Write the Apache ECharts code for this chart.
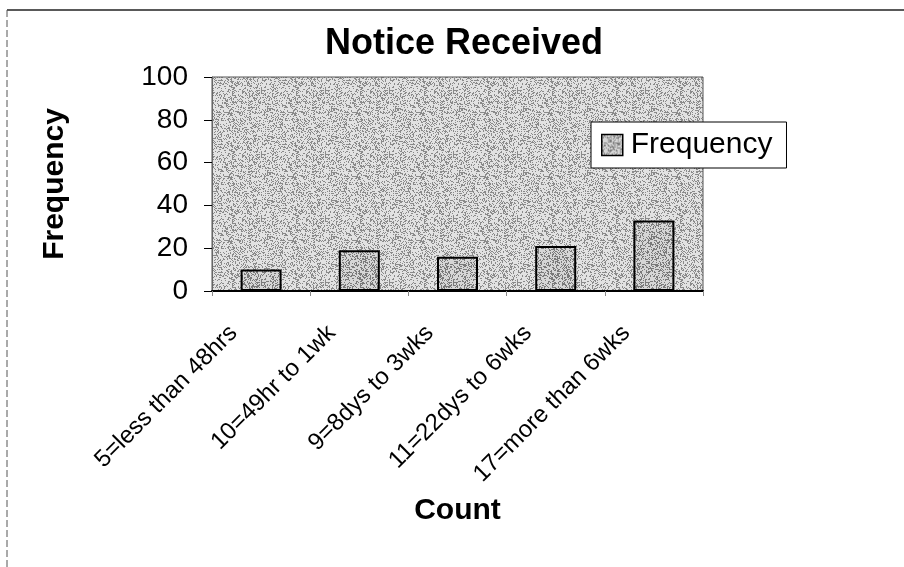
<!DOCTYPE html>
<html>
<head>
<meta charset="utf-8">
<script src="https://cdn.jsdelivr.net/npm/echarts@6/dist/echarts.min.js"></script>
<style>
  html, body { margin: 0; padding: 0; background: #fff; }
  #chart { width: 904px; height: 567px; }
</style>
</head>
<body>
<div id="chart"></div>
<script>
const categories = ['5=less than 48hrs', '10=49hr to 1wk', '9=8dys to 3wks', '11=22dys to 6wks', '17=more than 6wks'];
const frequency = [10, 19, 16, 21, 33];
const seriesName = 'Frequency';
const chartTitle = 'Notice Received';
const xAxisTitle = 'Count';
const yAxisTitle = 'Frequency';
const yMin = 0, yMax = 100, yStep = 20;

function makeStipple(base, dark, density) {
  const c = document.createElement('canvas');
  c.width = 64; c.height = 64;
  const g = c.getContext('2d');
  g.fillStyle = base;
  g.fillRect(0, 0, 64, 64);
  g.fillStyle = dark;
  for (let y = 0; y < 64; y++) {
    for (let x = 0; x < 64; x++) {
      let h = (Math.imul(x + 1, 374761393) ^ Math.imul(y + 7, 668265263)) >>> 0;
      h = Math.imul(h ^ (h >>> 13), 1274126177) >>> 0;
      if ((h % 100) < density) g.fillRect(x, y, 1, 1);
    }
  }
  return c;
}
const bgPattern = { image: makeStipple('#e2e2e2', '#8a8a8a', 30), repeat: 'repeat' };
const barPattern = { image: makeStipple('#d6d6d6', '#7a7a7a', 36), repeat: 'repeat' };

const FONT = '"Liberation Sans", Arial, sans-serif';
const chart = echarts.init(document.getElementById('chart'), null, { renderer: 'canvas' });
chart.setOption({
  animation: false,
  backgroundColor: '#fff',
  title: {
    text: chartTitle,
    left: 464, top: 26, textAlign: 'center', padding: 0,
    textStyle: { fontFamily: FONT, fontSize: 36, fontWeight: 'bold', color: '#000' }
  },
  legend: {
    data: [seriesName],
    left: 591, top: 122,
    orient: 'vertical',
    padding: [8, 14, 8, 10],
    backgroundColor: '#fff',
    borderColor: '#000', borderWidth: 1,
    itemWidth: 21, itemHeight: 21,
    icon: 'rect',
    itemStyle: { borderColor: '#000', borderWidth: 1.5 },
    textStyle: { fontFamily: FONT, fontSize: 30, color: '#000', padding: [0, 0, 6, 3] }
  },
  grid: {
    left: 212, right: 201, top: 77, bottom: 276,
    show: true,
    backgroundColor: bgPattern,
    borderColor: '#555', borderWidth: 1
  },
  xAxis: {
    type: 'category',
    data: categories,
    name: xAxisTitle,
    nameLocation: 'middle',
    nameGap: 205,
    nameTextStyle: { fontFamily: FONT, fontSize: 30, fontWeight: 'bold', color: '#000' },
    axisLine: { show: true, lineStyle: { color: '#000', width: 2 } },
    axisTick: { show: true, length: 5, lineStyle: { color: '#888', width: 1 } },
    axisLabel: {
      interval: 0, rotate: 45, margin: 66,
      formatter: function (v) { return '{lab|' + v + '}'; },
      rich: { lab: { fontFamily: FONT, fontSize: 24, color: '#000', padding: [0, 0, 78, 0] } },
      fontFamily: FONT, fontSize: 24, color: '#000'
    },
    splitLine: { show: false }
  },
  yAxis: {
    type: 'value',
    min: yMin, max: yMax, interval: yStep,
    name: yAxisTitle,
    nameLocation: 'middle',
    nameRotate: 90,
    nameGap: 142,
    nameTextStyle: { fontFamily: FONT, fontSize: 30, fontWeight: 'bold', color: '#000' },
    axisLine: { show: true, lineStyle: { color: '#666', width: 1 } },
    axisTick: { show: true, length: 8, lineStyle: { color: '#000', width: 1 } },
    axisLabel: { margin: 24, fontFamily: FONT, fontSize: 28, color: '#000' },
    splitLine: { show: false }
  },
  series: [{
    name: seriesName,
    type: 'bar',
    data: frequency,
    barWidth: 41,
    itemStyle: { color: barPattern, borderColor: '#000', borderWidth: 2 }
  }],
  graphic: [
    { type: 'line', shape: { x1: 7, y1: 10, x2: 904, y2: 10 }, style: { stroke: '#222', lineWidth: 1.5 }, silent: true },
    { type: 'line', shape: { x1: 7, y1: 10, x2: 7, y2: 567 }, style: { stroke: '#555', lineWidth: 1, lineDash: [7, 3] }, silent: true }
  ]
});
</script>
</body>
</html>
